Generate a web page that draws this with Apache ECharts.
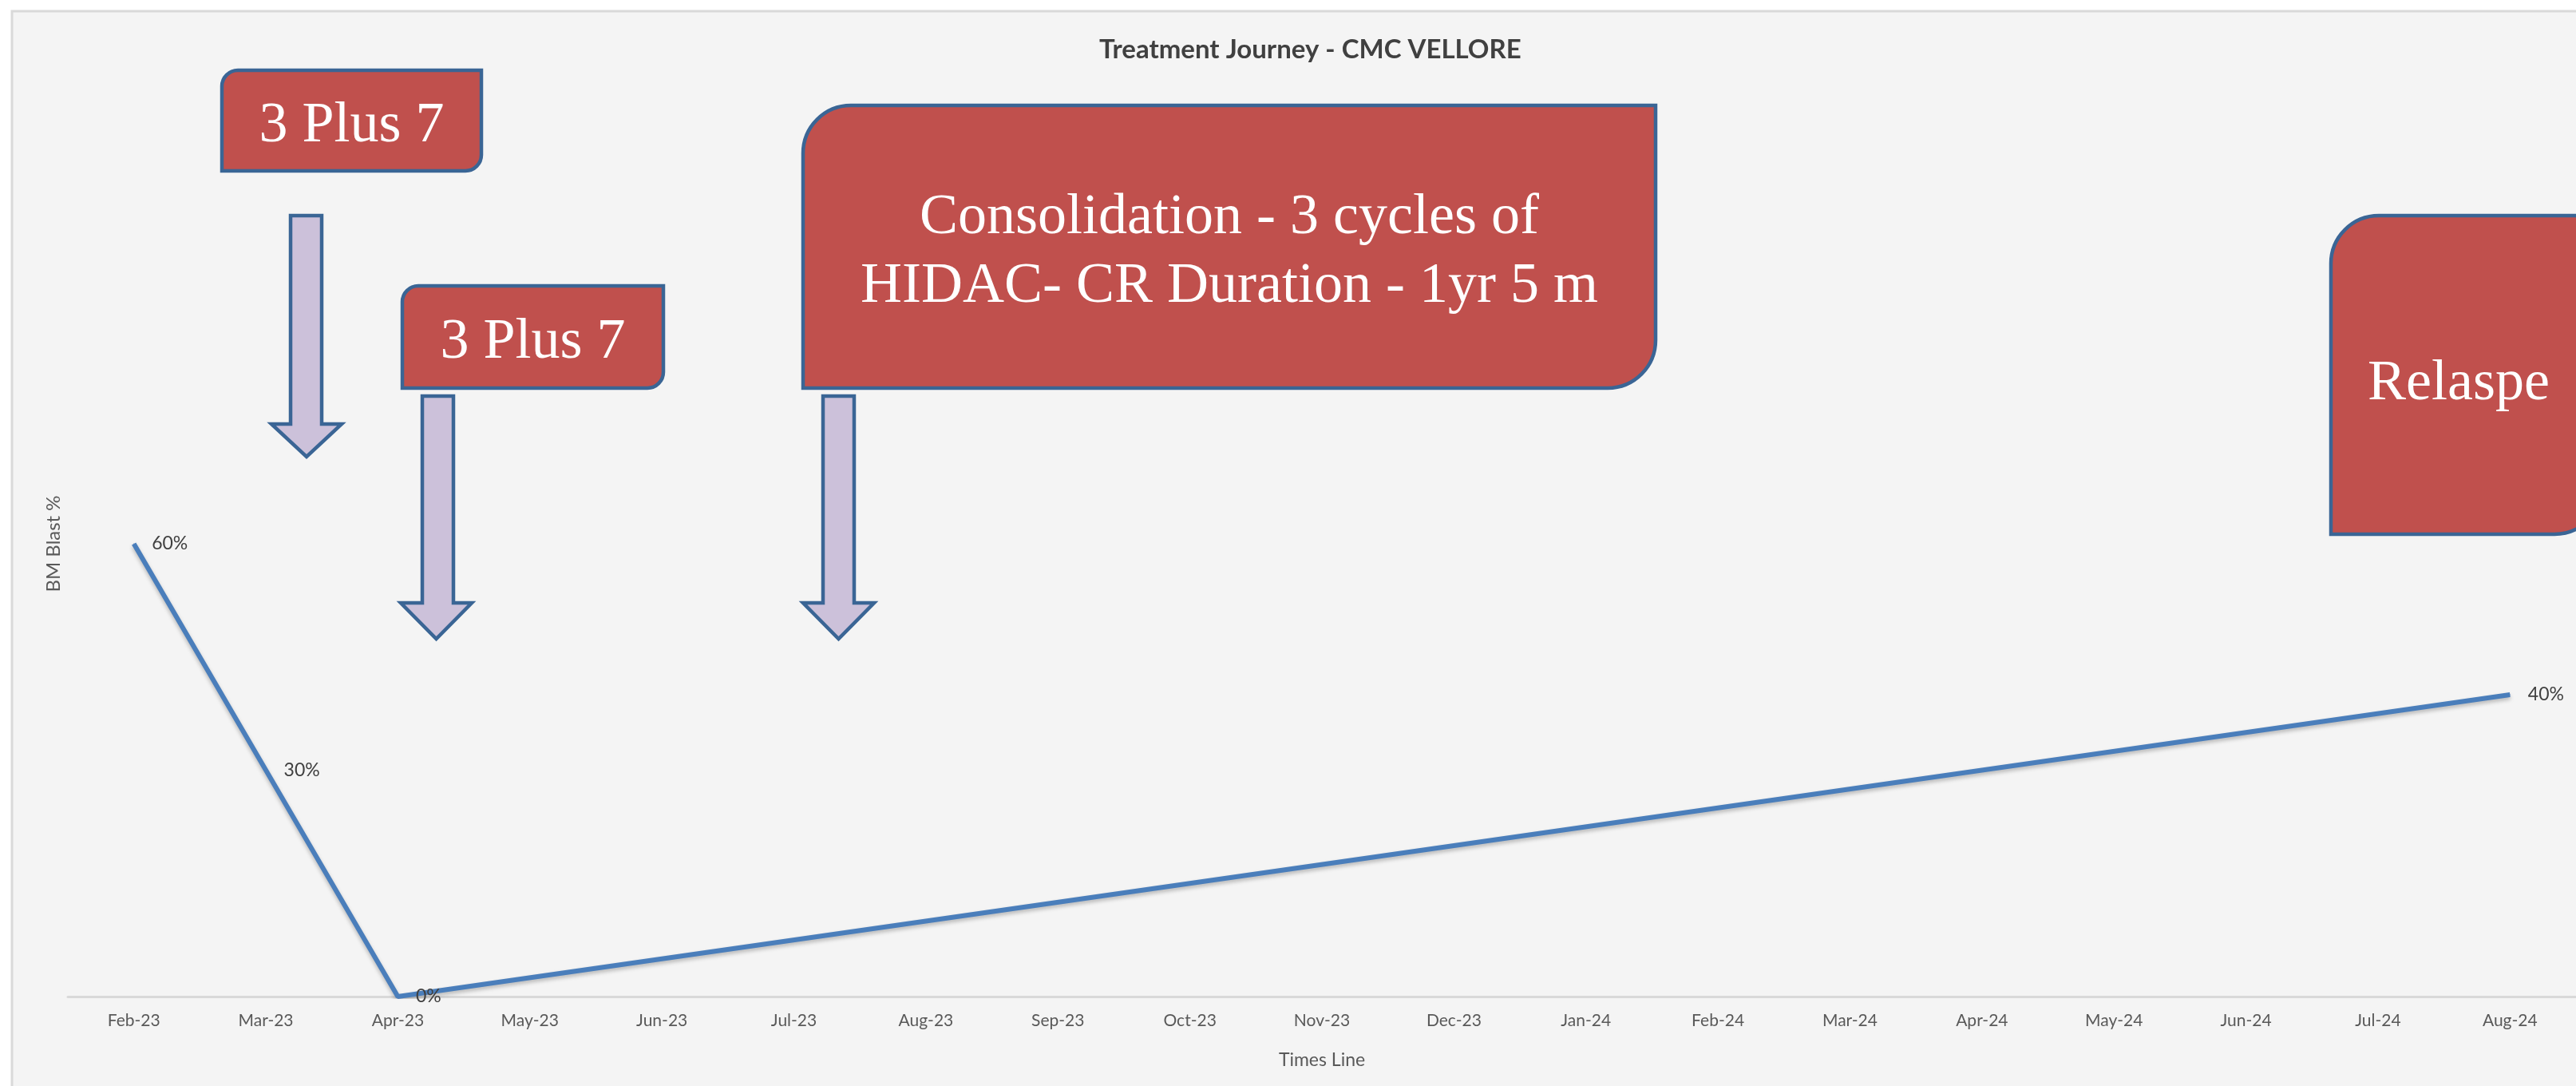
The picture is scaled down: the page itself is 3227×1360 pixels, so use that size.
<!DOCTYPE html>
<html>
<head>
<meta charset="utf-8">
<script src="https://cdn.jsdelivr.net/npm/echarts@6/dist/echarts.min.js"></script>
<style>
  html, body { margin: 0; padding: 0; background: #ffffff; }
  #chart { width: 3227px; height: 1360px; }
</style>
</head>
<body>
<div id="chart"></div>
<script>
  // months on the time line
  const months = ['Feb-23', 'Mar-23', 'Apr-23', 'May-23', 'Jun-23', 'Jul-23', 'Aug-23', 'Sep-23', 'Oct-23',
    'Nov-23', 'Dec-23', 'Jan-24', 'Feb-24', 'Mar-24', 'Apr-24', 'May-24', 'Jun-24', 'Jul-24', 'Aug-24']
  // BM blast (fraction), only measured months have a value
  const blast = [0.6, 0.3, 0, null, null, null, null, null, null, null, null, null, null, null, null, null, null, null, 0.4]

  const boxFill = '#C0504D'
  const edge = '#3A6595'
  const arrowFill = '#CCC1DA'
  const boxText = { fill: '#ffffff', fontFamily: 'Liberation Serif', fontSize: 72, lineHeight: 86, align: 'center' }

  // callout box with rounded top-left / bottom-right corners
  const box = (x, y, w, h, r, text, offset) => ({
    type: 'rect',
    shape: { x, y, width: w, height: h, r: [r, 0, r, 0] },
    style: { fill: boxFill, stroke: edge, lineWidth: 4.5 },
    textContent: { type: 'text', style: Object.assign({ text }, boxText), z: 11 },
    textConfig: { position: 'inside', offset: offset || [0, 7] },
    z: 10,
  })

  // down arrow: shaft left/right, top, head start, head left/right, tip
  const arrow = (sl, sr, top, hy, hl, hr, tip) => ({
    type: 'polygon',
    shape: {
      points: [[sl, top], [sr, top], [sr, hy], [hr, hy], [(hl + hr) / 2, tip], [hl, hy], [sl, hy]],
    },
    style: { fill: arrowFill, stroke: edge, lineWidth: 4.5 },
    z: 10,
  })

  const options = {
    backgroundColor: '#ffffff',
    title: {
      text: 'Treatment Journey - CMC VELLORE',
      left: 1372,
      top: 41,
      textStyle: { fontFamily: 'Lato', fontWeight: 'bold', fontSize: 33, color: '#404040' },
    },
    grid: { left: 85, right: -6, top: 114, bottom: 112 },
    xAxis: {
      type: 'category',
      data: months,
      boundaryGap: true,
      name: 'Times Line',
      nameLocation: 'middle',
      nameGap: 68,
      nameTextStyle: { fontFamily: 'Lato', fontSize: 23, color: '#595959' },
      axisLine: { lineStyle: { color: '#d9d9d9', width: 3 } },
      axisTick: { show: false },
      axisLabel: { fontFamily: 'Lato', fontSize: 21, color: '#595959', margin: 20, interval: 0 },
    },
    yAxis: {
      type: 'value',
      min: 0,
      max: 1.2,
      name: 'BM Blast %',
      nameLocation: 'middle',
      nameGap: 6,
      nameRotate: 90,
      nameTextStyle: { fontFamily: 'Lato', fontSize: 24, color: '#595959' },
      axisLine: { show: false },
      axisTick: { show: false },
      axisLabel: { show: false },
      splitLine: { show: false },
    },
    graphic: [
      {
        type: 'rect',
        shape: { x: 15, y: 14, width: 3300, height: 1400 },
        style: { fill: '#f4f4f4', stroke: '#d9d9d9', lineWidth: 3 },
        z: -10,
        silent: true,
      },
      box(278, 88, 325, 126, 20, '3 Plus 7'),
      arrow(364, 403, 270, 531, 340, 428, 572),
      box(504, 358, 327, 128, 20, '3 Plus 7'),
      arrow(529, 568, 496, 755, 502, 591, 800),
      box(1006, 132, 1068, 354, 60, 'Consolidation - 3 cycles of\nHIDAC- CR Duration - 1yr 5 m'),
      arrow(1031, 1070, 496, 755, 1006, 1095, 800),
      box(2920, 270, 340, 399, 60, 'Relaspe', [-10, 12]),
    ],
    series: [
      {
        type: 'line',
        data: blast,
        connectNulls: true,
        symbol: 'circle',
        symbolSize: 1,
        itemStyle: { color: '#4A7EBB' },
        lineStyle: {
          color: '#4A7EBB',
          width: 6,
          shadowColor: 'rgba(0,0,0,0.25)',
          shadowBlur: 5,
          shadowOffsetY: 3,
        },
        label: {
          show: true,
          position: 'right',
          distance: 22,
          fontFamily: 'Lato',
          fontSize: 23,
          color: '#404040',
          formatter: (p) => Math.round(p.value * 100) + '%',
        },
      },
    ],
  }

  const chart = echarts.init(document.getElementById('chart'))
  chart.setOption(options)
  window.addEventListener('resize', function () {
    chart && chart.resize()
  })
</script>
</body>
</html>
